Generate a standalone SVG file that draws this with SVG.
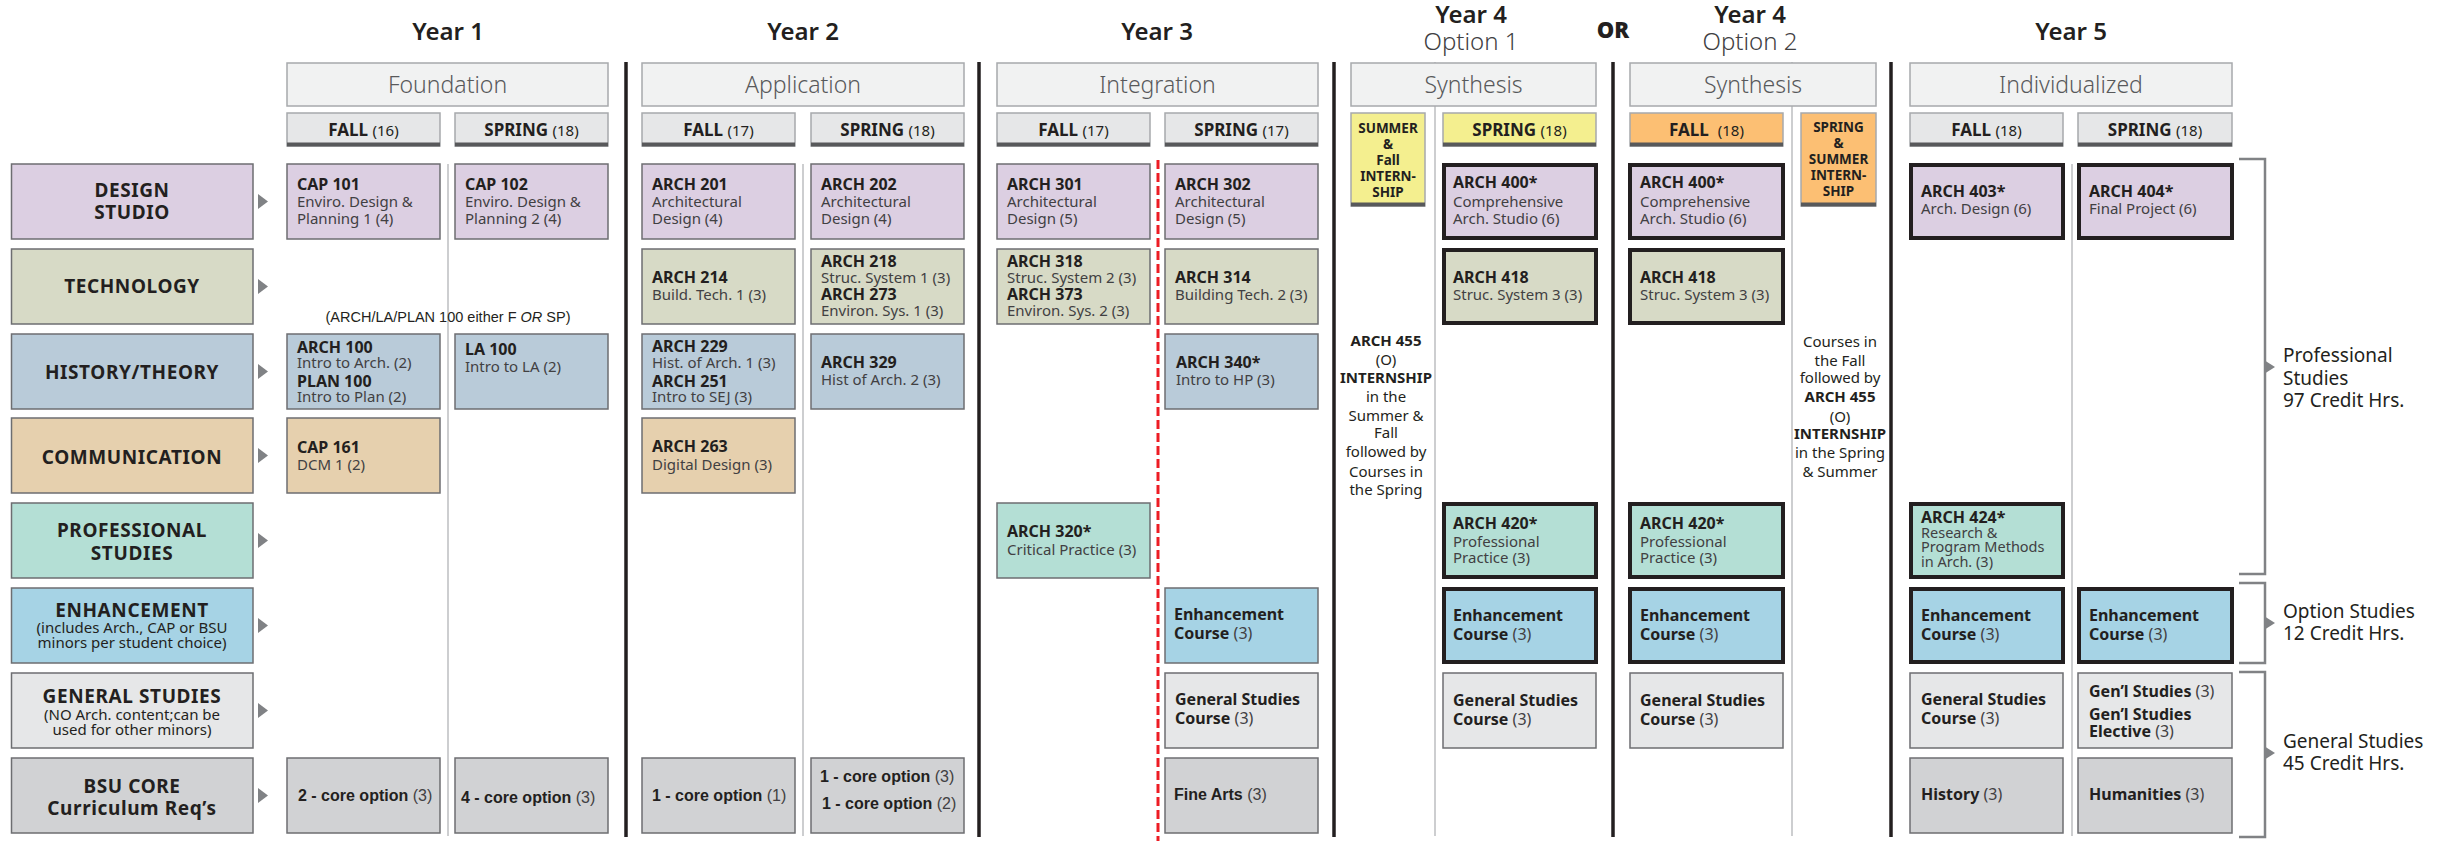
<svg xmlns="http://www.w3.org/2000/svg" width="2459" height="841" viewBox="0 0 2459 841">
<style>
text{font-family:"Noto Sans","Open Sans",sans-serif;fill:#231f20}
.bx{stroke:#6d6e71;stroke-width:1.5}
.tk{stroke:#231f20;stroke-width:4}
.pu{fill:#dccfe2}.te{fill:#d7dac6}.hi{fill:#b9cbd9}.co{fill:#e6d0ae}.pr{fill:#b4dfd5}.en{fill:#a6d3e5}.ge{fill:#e6e7e8}.cr{fill:#d1d2d4}
.b{font-weight:700;font-size:16px}
.r{font-size:15px;fill:#414042}
.r2{font-size:14.5px;fill:#414042}
.n{font-weight:400;fill:#414042}
.c{font-weight:700;font-size:19px;letter-spacing:0.6px;text-anchor:middle}
.cs{font-size:15px;text-anchor:middle;fill:#231f20}
.ar{font-family:"Liberation Sans",Arial,sans-serif;font-weight:700;font-size:16px}
.yr{font-size:24px;font-weight:600;text-anchor:middle}
.op{font-size:24px;font-weight:300;text-anchor:middle;fill:#414042}
.ph{font-size:23px;font-weight:300;text-anchor:middle;fill:#58595b}
.sm{font-size:17px;font-weight:700;text-anchor:middle}
.sm tspan{font-weight:400;font-size:15px}
.it{font-size:13.5px;font-weight:700;text-anchor:middle}
.nt{font-size:15px;text-anchor:middle;fill:#231f20}
.nt tspan{font-weight:700}
.hd{fill:#f1f2f2;stroke:#a7a9ac;stroke-width:1.5}
.sh{fill:#e6e7e8;stroke:#a7a9ac;stroke-width:1.5}
.yl{fill:#f4ef8f;stroke:#a7a9ac;stroke-width:1.5}
.or{fill:#fcbf73;stroke:#a7a9ac;stroke-width:1.5}
.bar{fill:#58595b}
.tri{fill:#808285}
.brk{fill:none;stroke:#808285;stroke-width:2.5}
.div{stroke:#231f20;stroke-width:3.5}
.thin{stroke:#bcbec0;stroke-width:1.5}
.red{stroke:#ed1c24;stroke-width:3;stroke-dasharray:9 4}
.lbl{font-size:19px}
</style>
<rect width="2459" height="841" fill="#fff"/>

<!-- column dividers -->
<g id="dividers">
  <line class="thin" x1="448" y1="164" x2="448" y2="836"/>
  <line class="thin" x1="803" y1="164" x2="803" y2="836"/>
  <line class="thin" x1="1435" y1="62" x2="1435" y2="836"/>
  <line class="thin" x1="1792" y1="62" x2="1792" y2="836"/>
  <line class="thin" x1="2072" y1="164" x2="2072" y2="836"/>
  <line class="div" x1="626" y1="62" x2="626" y2="837"/>
  <line class="div" x1="979" y1="62" x2="979" y2="837"/>
  <line class="div" x1="1334" y1="62" x2="1334" y2="837"/>
  <line class="div" x1="1613" y1="62" x2="1613" y2="837"/>
  <line class="div" x1="1891" y1="62" x2="1891" y2="837"/>
  <line class="red" x1="1158" y1="160" x2="1158" y2="841"/>
</g>

<!-- year titles -->
<g id="years">
  <text class="yr" x="448" y="40">Year 1</text>
  <text class="yr" x="803" y="40">Year 2</text>
  <text class="yr" x="1157" y="40">Year 3</text>
  <text class="yr" x="1471" y="23">Year 4</text>
  <text class="op" x="1471" y="50">Option 1</text>
  <text x="1613" y="38" style="font-size:22px;font-weight:900;text-anchor:middle">OR</text>
  <text class="yr" x="1750" y="23">Year 4</text>
  <text class="op" x="1750" y="50">Option 2</text>
  <text class="yr" x="2071" y="40">Year 5</text>
</g>

<!-- phase headers -->
<g id="phases">
  <rect class="hd" x="287" y="63" width="321" height="43"/><text class="ph" x="447.5" y="93">Foundation</text>
  <rect class="hd" x="642" y="63" width="322" height="43"/><text class="ph" x="803" y="93">Application</text>
  <rect class="hd" x="997" y="63" width="321" height="43"/><text class="ph" x="1157.5" y="93">Integration</text>
  <rect class="hd" x="1351" y="63" width="245" height="43"/><text class="ph" x="1473.5" y="93">Synthesis</text>
  <rect class="hd" x="1630" y="63" width="246" height="43"/><text class="ph" x="1753" y="93">Synthesis</text>
  <rect class="hd" x="1910" y="63" width="322" height="43"/><text class="ph" x="2071" y="93">Individualized</text>
</g>

<!-- semester headers -->
<g id="semesters">
  <rect class="sh" x="287" y="113" width="153" height="33"/><rect class="bar" x="287" y="142.5" width="153" height="4"/><text class="sm" x="363.5" y="136">FALL <tspan>(16)</tspan></text>
  <rect class="sh" x="455" y="113" width="153" height="33"/><rect class="bar" x="455" y="142.5" width="153" height="4"/><text class="sm" x="531.5" y="136">SPRING <tspan>(18)</tspan></text>
  <rect class="sh" x="642" y="113" width="153" height="33"/><rect class="bar" x="642" y="142.5" width="153" height="4"/><text class="sm" x="718.5" y="136">FALL <tspan>(17)</tspan></text>
  <rect class="sh" x="811" y="113" width="153" height="33"/><rect class="bar" x="811" y="142.5" width="153" height="4"/><text class="sm" x="887.5" y="136">SPRING <tspan>(18)</tspan></text>
  <rect class="sh" x="997" y="113" width="153" height="33"/><rect class="bar" x="997" y="142.5" width="153" height="4"/><text class="sm" x="1073.5" y="136">FALL <tspan>(17)</tspan></text>
  <rect class="sh" x="1165" y="113" width="153" height="33"/><rect class="bar" x="1165" y="142.5" width="153" height="4"/><text class="sm" x="1241.5" y="136">SPRING <tspan>(17)</tspan></text>
  <rect class="yl" x="1351" y="113" width="74" height="93"/><rect class="bar" x="1351" y="202.5" width="74" height="4"/>
  <text class="it" x="1388" y="133">SUMMER</text><text class="it" x="1388" y="149">&amp;</text><text class="it" x="1388" y="165">Fall</text><text class="it" x="1388" y="181">INTERN-</text><text class="it" x="1388" y="197">SHIP</text>
  <rect class="yl" x="1443" y="113" width="153" height="33"/><rect class="bar" x="1443" y="142.5" width="153" height="4"/><text class="sm" x="1519.5" y="136">SPRING <tspan>(18)</tspan></text>
  <rect class="or" x="1630" y="113" width="153" height="33"/><rect class="bar" x="1630" y="142.5" width="153" height="4"/><text class="sm" x="1706.5" y="136" xml:space="preserve">FALL  <tspan>(18)</tspan></text>
  <rect class="or" x="1801" y="113" width="75" height="93"/><rect class="bar" x="1801" y="202.5" width="75" height="4"/>
  <text class="it" x="1838.5" y="132">SPRING</text><text class="it" x="1838.5" y="148">&amp;</text><text class="it" x="1838.5" y="164">SUMMER</text><text class="it" x="1838.5" y="180">INTERN-</text><text class="it" x="1838.5" y="196">SHIP</text>
  <rect class="sh" x="1910" y="113" width="153" height="33"/><rect class="bar" x="1910" y="142.5" width="153" height="4"/><text class="sm" x="1986.5" y="136">FALL <tspan>(18)</tspan></text>
  <rect class="sh" x="2078" y="113" width="154" height="33"/><rect class="bar" x="2078" y="142.5" width="154" height="4"/><text class="sm" x="2155" y="136">SPRING <tspan>(18)</tspan></text>
</g>

<!-- category labels -->
<g id="cat-design"><rect class="bx pu" x="11.5" y="164" width="241.5" height="75"/><text class="c" x="132" y="197">DESIGN</text><text class="c" x="132" y="219">STUDIO</text></g>
<g id="cat-tech"><rect class="bx te" x="11.5" y="249" width="241.5" height="75"/><text class="c" x="132" y="293">TECHNOLOGY</text></g>
<g id="cat-history"><rect class="bx hi" x="11.5" y="334" width="241.5" height="75"/><text class="c" x="132" y="379">HISTORY/THEORY</text></g>
<g id="cat-comm"><rect class="bx co" x="11.5" y="418" width="241.5" height="75"/><text class="c" x="132" y="464">COMMUNICATION</text></g>
<g id="cat-prof"><rect class="bx pr" x="11.5" y="503" width="241.5" height="75"/><text class="c" x="132" y="537">PROFESSIONAL</text><text class="c" x="132" y="560">STUDIES</text></g>
<g id="cat-enh"><rect class="bx en" x="11.5" y="588" width="241.5" height="75"/><text class="c" x="132" y="617">ENHANCEMENT</text><text class="cs" x="132" y="633">(includes Arch., CAP or BSU</text><text class="cs" x="132" y="648">minors per student choice)</text></g>
<g id="cat-gen"><rect class="bx ge" x="11.5" y="673" width="241.5" height="75"/><text class="c" x="132" y="703">GENERAL STUDIES</text><text class="cs" x="132" y="720">(NO Arch. content;can be</text><text class="cs" x="132" y="735">used for other minors)</text></g>
<g id="cat-core"><rect class="bx cr" x="11.5" y="758" width="241.5" height="75"/><text class="c" x="132" y="793">BSU CORE</text><text class="c" x="132" y="815">Curriculum Req’s</text></g>

<!-- connectors: row arrows and credit brackets -->
<g id="connectors">
  <polygon class="tri" points="258,194 268,201.5 258,209"/>
  <polygon class="tri" points="258,279 268,286.5 258,294"/>
  <polygon class="tri" points="258,364 268,371.5 258,379"/>
  <polygon class="tri" points="258,448 268,455.5 258,463"/>
  <polygon class="tri" points="258,533 268,540.5 258,548"/>
  <polygon class="tri" points="258,618 268,625.5 258,633"/>
  <polygon class="tri" points="258,703 268,710.5 258,718"/>
  <polygon class="tri" points="258,788 268,795.5 258,803"/>
  <path class="brk" d="M2239,159 H2265 V574 H2239"/>
  <polygon class="tri" points="2264,360 2275,367 2264,374"/>
  <path class="brk" d="M2239,583 H2265 V663 H2239"/>
  <polygon class="tri" points="2264,616 2275,623 2264,630"/>
  <path class="brk" d="M2239,672 H2265 V837 H2239"/>
  <polygon class="tri" points="2264,746 2275,753 2264,760"/>
</g>

<g id="credit-labels">
  <text class="lbl" x="2283" y="362">Professional</text><text class="lbl" x="2283" y="385">Studies</text><text class="lbl" x="2283" y="407">97 Credit Hrs.</text>
  <text class="lbl" x="2283" y="618">Option Studies</text><text class="lbl" x="2283" y="640">12 Credit Hrs.</text>
  <text class="lbl" x="2283" y="748">General Studies</text><text class="lbl" x="2283" y="770">45 Credit Hrs.</text>
</g>

<!-- Year 1 -->
<g id="cap101"><rect class="bx pu" x="287" y="164" width="153" height="75"/><text class="b" x="297" y="190">CAP 101</text><text class="r" x="297" y="207">Enviro. Design &amp;</text><text class="r" x="297" y="224">Planning 1 (4)</text></g>
<g id="cap102"><rect class="bx pu" x="455" y="164" width="153" height="75"/><text class="b" x="465" y="190">CAP 102</text><text class="r" x="465" y="207">Enviro. Design &amp;</text><text class="r" x="465" y="224">Planning 2 (4)</text></g>
<g id="y1-note"><text x="448" y="322" style="font-family:'Liberation Sans',Arial,sans-serif;font-size:14.5px;text-anchor:middle">(ARCH/LA/PLAN 100 either F <tspan font-style="italic">OR</tspan> SP)</text></g>
<g id="arch100"><rect class="bx hi" x="287" y="334" width="153" height="75"/><text class="b" x="297" y="353">ARCH 100</text><text class="r" x="297" y="368">Intro to Arch. (2)</text><text class="b" x="297" y="387">PLAN 100</text><text class="r" x="297" y="402">Intro to Plan (2)</text></g>
<g id="la100"><rect class="bx hi" x="455" y="334" width="153" height="75"/><text class="b" x="465" y="355">LA 100</text><text class="r" x="465" y="372">Intro to LA (2)</text></g>
<g id="cap161"><rect class="bx co" x="287" y="418" width="153" height="75"/><text class="b" x="297" y="453">CAP 161</text><text class="r" x="297" y="470">DCM 1 (2)</text></g>
<g id="y1-core-f"><rect class="bx cr" x="287" y="758" width="153" height="75"/><text class="ar" x="298" y="801">2 - core option <tspan class="n">(3)</tspan></text></g>
<g id="y1-core-s"><rect class="bx cr" x="455" y="758" width="153" height="75"/><text class="ar" x="461" y="803">4 - core option <tspan class="n">(3)</tspan></text></g>

<!-- Year 2 -->
<g id="arch201"><rect class="bx pu" x="642" y="164" width="153" height="75"/><text class="b" x="652" y="190">ARCH 201</text><text class="r" x="652" y="207">Architectural</text><text class="r" x="652" y="224">Design (4)</text></g>
<g id="arch202"><rect class="bx pu" x="811" y="164" width="153" height="75"/><text class="b" x="821" y="190">ARCH 202</text><text class="r" x="821" y="207">Architectural</text><text class="r" x="821" y="224">Design (4)</text></g>
<g id="arch214"><rect class="bx te" x="642" y="249" width="153" height="75"/><text class="b" x="652" y="283">ARCH 214</text><text class="r" x="652" y="300">Build. Tech. 1 (3)</text></g>
<g id="arch218"><rect class="bx te" x="811" y="249" width="153" height="75"/><text class="b" x="821" y="267">ARCH 218</text><text class="r" x="821" y="283">Struc. System 1 (3)</text><text class="b" x="821" y="300">ARCH 273</text><text class="r" x="821" y="316">Environ. Sys. 1 (3)</text></g>
<g id="arch229"><rect class="bx hi" x="642" y="334" width="153" height="75"/><text class="b" x="652" y="352">ARCH 229</text><text class="r" x="652" y="368">Hist. of Arch. 1 (3)</text><text class="b" x="652" y="387">ARCH 251</text><text class="r" x="652" y="402">Intro to SEJ (3)</text></g>
<g id="arch329"><rect class="bx hi" x="811" y="334" width="153" height="75"/><text class="b" x="821" y="368">ARCH 329</text><text class="r" x="821" y="385">Hist of Arch. 2 (3)</text></g>
<g id="arch263"><rect class="bx co" x="642" y="418" width="153" height="75"/><text class="b" x="652" y="452">ARCH 263</text><text class="r" x="652" y="470">Digital Design (3)</text></g>
<g id="y2-core-f"><rect class="bx cr" x="642" y="758" width="153" height="75"/><text class="ar" x="652" y="801">1 - core option <tspan class="n">(1)</tspan></text></g>
<g id="y2-core-s"><rect class="bx cr" x="811" y="758" width="153" height="75"/><text class="ar" x="820" y="782">1 - core option <tspan class="n">(3)</tspan></text><text class="ar" x="822" y="809">1 - core option <tspan class="n">(2)</tspan></text></g>

<!-- Year 3 -->
<g id="arch301"><rect class="bx pu" x="997" y="164" width="153" height="75"/><text class="b" x="1007" y="190">ARCH 301</text><text class="r" x="1007" y="207">Architectural</text><text class="r" x="1007" y="224">Design (5)</text></g>
<g id="arch302"><rect class="bx pu" x="1165" y="164" width="153" height="75"/><text class="b" x="1175" y="190">ARCH 302</text><text class="r" x="1175" y="207">Architectural</text><text class="r" x="1175" y="224">Design (5)</text></g>
<g id="arch318"><rect class="bx te" x="997" y="249" width="153" height="75"/><text class="b" x="1007" y="267">ARCH 318</text><text class="r" x="1007" y="283">Struc. System 2 (3)</text><text class="b" x="1007" y="300">ARCH 373</text><text class="r" x="1007" y="316">Environ. Sys. 2 (3)</text></g>
<g id="arch314"><rect class="bx te" x="1165" y="249" width="153" height="75"/><text class="b" x="1175" y="283">ARCH 314</text><text class="r" x="1175" y="300">Building Tech. 2 (3)</text></g>
<g id="arch340"><rect class="bx hi" x="1165" y="334" width="153" height="75"/><text class="b" x="1176" y="368">ARCH 340*</text><text class="r" x="1176" y="385">Intro to HP (3)</text></g>
<g id="arch320"><rect class="bx pr" x="997" y="503" width="153" height="75"/><text class="b" x="1007" y="537">ARCH 320*</text><text class="r" x="1007" y="555">Critical Practice (3)</text></g>
<g id="y3-enh"><rect class="bx en" x="1165" y="588" width="153" height="75"/><text class="b" x="1174" y="620">Enhancement</text><text class="b" x="1174" y="639">Course <tspan class="n">(3)</tspan></text></g>
<g id="y3-gen"><rect class="bx ge" x="1165" y="673" width="153" height="75"/><text class="b" x="1175" y="705">General Studies</text><text class="b" x="1175" y="724">Course <tspan class="n">(3)</tspan></text></g>
<g id="y3-arts"><rect class="bx cr" x="1165" y="758" width="153" height="75"/><text class="ar" x="1174" y="800">Fine Arts <tspan class="n">(3)</tspan></text></g>

<!-- Year 4, option 1 -->
<g id="y4a-intern"><text class="nt" x="1386" y="346"><tspan>ARCH 455</tspan></text><text class="nt" x="1386" y="365">(O)</text><text class="nt" x="1386" y="383"><tspan>INTERNSHIP</tspan></text><text class="nt" x="1386" y="402">in the</text><text class="nt" x="1386" y="421">Summer &amp;</text><text class="nt" x="1386" y="438">Fall</text><text class="nt" x="1386" y="457">followed by</text><text class="nt" x="1386" y="477">Courses in</text><text class="nt" x="1386" y="495">the Spring</text></g>
<g id="y4a-arch400"><rect class="tk pu" x="1444" y="165" width="152" height="73"/><text class="b" x="1453" y="188">ARCH 400*</text><text class="r" x="1453" y="207">Comprehensive</text><text class="r" x="1453" y="224">Arch. Studio (6)</text></g>
<g id="y4a-arch418"><rect class="tk te" x="1444" y="250" width="152" height="73"/><text class="b" x="1453" y="283">ARCH 418</text><text class="r" x="1453" y="300">Struc. System 3 (3)</text></g>
<g id="y4a-arch420"><rect class="tk pr" x="1444" y="504" width="152" height="73"/><text class="b" x="1453" y="529">ARCH 420*</text><text class="r" x="1453" y="547">Professional</text><text class="r" x="1453" y="563">Practice (3)</text></g>
<g id="y4a-enh"><rect class="tk en" x="1444" y="589" width="152" height="73"/><text class="b" x="1453" y="621">Enhancement</text><text class="b" x="1453" y="640">Course <tspan class="n">(3)</tspan></text></g>
<g id="y4a-gen"><rect class="bx ge" x="1443" y="673" width="153" height="75"/><text class="b" x="1453" y="706">General Studies</text><text class="b" x="1453" y="725">Course <tspan class="n">(3)</tspan></text></g>

<!-- Year 4, option 2 -->
<g id="y4b-arch400"><rect class="tk pu" x="1630" y="165" width="153" height="73"/><text class="b" x="1640" y="188">ARCH 400*</text><text class="r" x="1640" y="207">Comprehensive</text><text class="r" x="1640" y="224">Arch. Studio (6)</text></g>
<g id="y4b-arch418"><rect class="tk te" x="1630" y="250" width="153" height="73"/><text class="b" x="1640" y="283">ARCH 418</text><text class="r" x="1640" y="300">Struc. System 3 (3)</text></g>
<g id="y4b-arch420"><rect class="tk pr" x="1630" y="504" width="153" height="73"/><text class="b" x="1640" y="529">ARCH 420*</text><text class="r" x="1640" y="547">Professional</text><text class="r" x="1640" y="563">Practice (3)</text></g>
<g id="y4b-enh"><rect class="tk en" x="1630" y="589" width="153" height="73"/><text class="b" x="1640" y="621">Enhancement</text><text class="b" x="1640" y="640">Course <tspan class="n">(3)</tspan></text></g>
<g id="y4b-gen"><rect class="bx ge" x="1630" y="673" width="153" height="75"/><text class="b" x="1640" y="706">General Studies</text><text class="b" x="1640" y="725">Course <tspan class="n">(3)</tspan></text></g>
<g id="y4b-intern"><text class="nt" x="1840" y="347">Courses in</text><text class="nt" x="1840" y="366">the Fall</text><text class="nt" x="1840" y="383">followed by</text><text class="nt" x="1840" y="402"><tspan>ARCH 455</tspan></text><text class="nt" x="1840" y="422">(O)</text><text class="nt" x="1840" y="439"><tspan>INTERNSHIP</tspan></text><text class="nt" x="1840" y="458">in the Spring</text><text class="nt" x="1840" y="477">&amp; Summer</text></g>

<!-- Year 5 -->
<g id="arch403"><rect class="tk pu" x="1911" y="165" width="152" height="73"/><text class="b" x="1921" y="197">ARCH 403*</text><text class="r" x="1921" y="214">Arch. Design (6)</text></g>
<g id="arch404"><rect class="tk pu" x="2079" y="165" width="153" height="73"/><text class="b" x="2089" y="197">ARCH 404*</text><text class="r" x="2089" y="214">Final Project (6)</text></g>
<g id="arch424"><rect class="tk pr" x="1911" y="504" width="152" height="73"/><text class="b" x="1921" y="523">ARCH 424*</text><text class="r2" x="1921" y="538">Research &amp;</text><text class="r2" x="1921" y="552">Program Methods</text><text class="r2" x="1921" y="567">in Arch. (3)</text></g>
<g id="y5-enh-f"><rect class="tk en" x="1911" y="589" width="152" height="73"/><text class="b" x="1921" y="621">Enhancement</text><text class="b" x="1921" y="640">Course <tspan class="n">(3)</tspan></text></g>
<g id="y5-enh-s"><rect class="tk en" x="2079" y="589" width="153" height="73"/><text class="b" x="2089" y="621">Enhancement</text><text class="b" x="2089" y="640">Course <tspan class="n">(3)</tspan></text></g>
<g id="y5-gen-f"><rect class="bx ge" x="1910" y="673" width="153" height="75"/><text class="b" x="1921" y="705">General Studies</text><text class="b" x="1921" y="724">Course <tspan class="n">(3)</tspan></text></g>
<g id="y5-gen-s"><rect class="bx ge" x="2078" y="673" width="154" height="75"/><text class="b" x="2089" y="697">Gen’l Studies <tspan class="n">(3)</tspan></text><text class="b" x="2089" y="720">Gen’l Studies</text><text class="b" x="2089" y="737">Elective <tspan class="n">(3)</tspan></text></g>
<g id="y5-hist"><rect class="bx cr" x="1910" y="758" width="153" height="75"/><text class="b" x="1921" y="800">History <tspan class="n">(3)</tspan></text></g>
<g id="y5-hum"><rect class="bx cr" x="2078" y="758" width="154" height="75"/><text class="b" x="2089" y="800">Humanities <tspan class="n">(3)</tspan></text></g>
</svg>
